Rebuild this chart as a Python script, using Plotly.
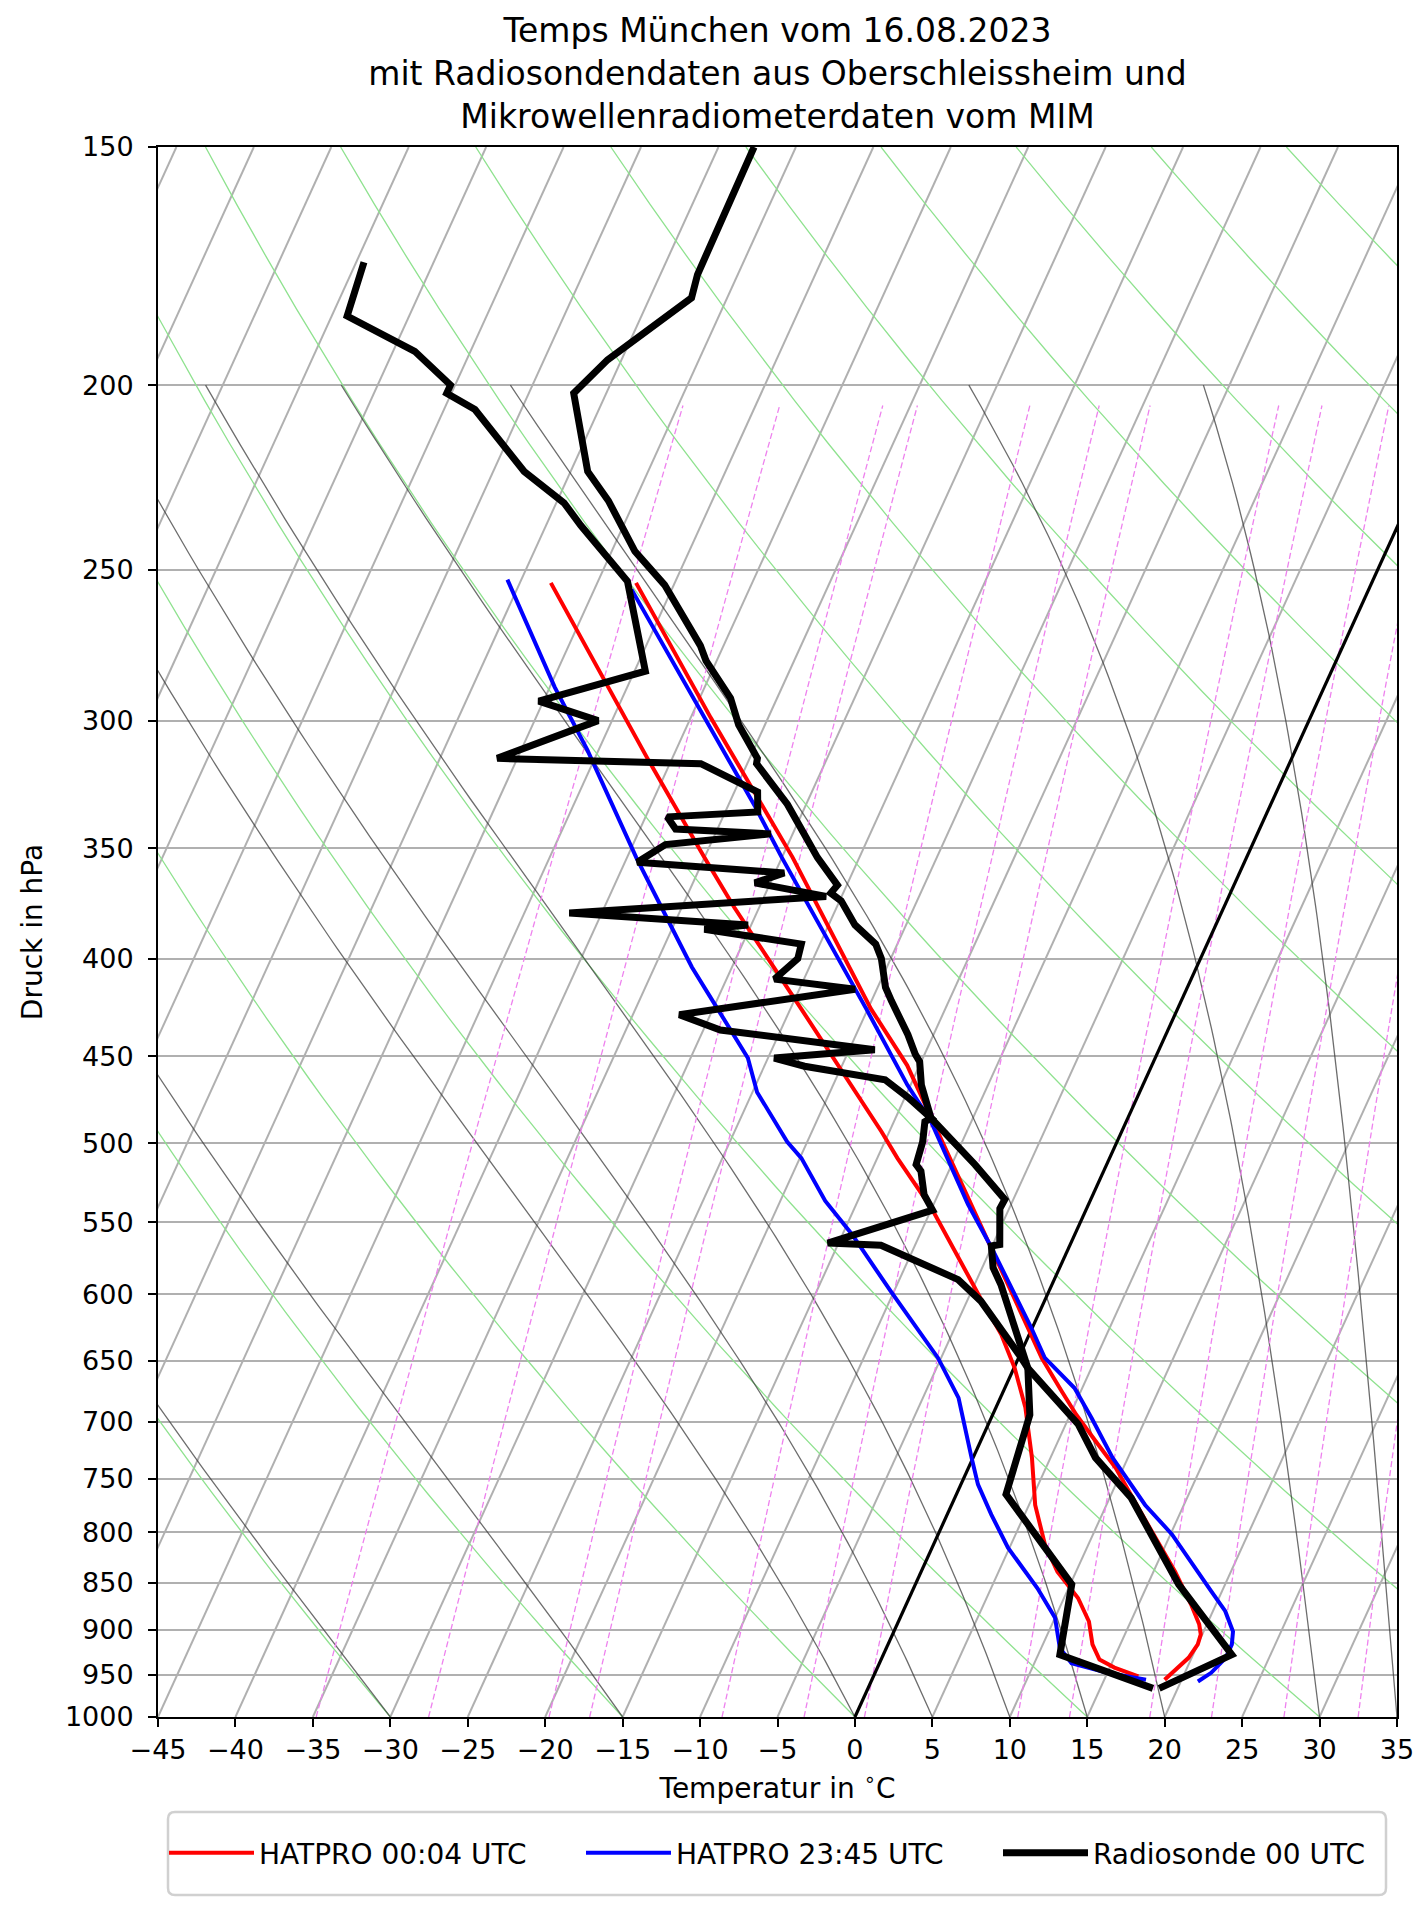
import numpy as np
import plotly.graph_objects as go

# ---------------- axis definitions ----------------
T_MIN, T_MAX = -45, 35
P_BOTTOM, P_TOP = 1000, 150
pressure_ticks = [150, 200, 250, 300, 350, 400, 450, 500, 550, 600, 650, 700,
                  750, 800, 850, 900, 950, 1000]
temp_ticks = list(range(-45, 36, 5))

# ---------------- background line parameters ----------------
isotherm_temps = list(range(-90, 36, 5))
dry_adiabat_t0 = list(range(-45, 181, 15))
moist_adiabat_t0 = [-30, -15, 0, 5, 10, 15, 20, 30, 35]
mixing_ratios = [0.0002, 0.0004, 0.0008, 0.001, 0.002, 0.003, 0.004, 0.008,
                 0.010, 0.014, 0.018, 0.024, 0.032]

# ---------------- HATPRO 00:04 UTC ----------------
hat1_T_p = [254, 299, 354, 425, 455, 563, 625, 648, 675, 694, 714, 740, 799,
            839, 873, 894, 905, 916, 931, 946, 956]
hat1_T = [-47.5, -38.7, -29.3, -19.8, -15.8, -5.4, -0.3, 1.5, 3.8, 5.4, 7.2,
          9.5, 13.7, 16.4, 18.4, 19.5, 19.9, 20.0, 19.8, 19.3, 18.9]
hat1_Td_p = [254, 284, 314, 354, 376, 425, 493, 509, 541, 603, 630, 656, 688,
             731, 774, 812, 839, 866, 891, 916, 933, 942, 952]
hat1_Td = [-53.0, -47.0, -41.6, -35.0, -31.6, -24.3, -15.5, -13.7, -10.0, -4.2,
           -1.8, 0.05, 1.9, 3.8, 5.4, 7.2, 8.8, 10.9, 12.3, 13.2, 14.1, 15.3, 17.1]

# ---------------- HATPRO 23:45 UTC ----------------
hat2_T_p = [256, 333, 354, 425, 466, 487, 538, 567, 625, 648, 672, 697, 731,
            774, 802, 829, 859, 880, 902, 916, 931, 948, 958]
hat2_T = [-47.6, -33.2, -30.0, -20.1, -15.2, -12.6, -7.8, -5.0, -0.05, 1.7,
          4.5, 6.5, 9.0, 12.5, 15.1, 17.1, 19.3, 20.8, 21.9, 22.2, 22.2, 21.7, 21.1]
hat2_Td_p = [253, 288, 311, 354, 376, 404, 425, 451, 470, 499, 509, 536, 558,
             598, 648, 680, 731, 755, 783, 815, 856, 887, 920, 937, 948, 956]
hat2_Td = [-55.9, -49.7, -45.7, -39.4, -36.3, -32.6, -29.7, -26.3, -24.7, -21.3,
           -19.9, -17.1, -14.4, -10.2, -5.2, -2.7, -0.1, 1.1, 2.85, 4.9, 8.0,
           10.0, 11.2, 12.4, 15.0, 17.7]

# ---------------- Radiosonde 00 UTC ----------------
sonde_T_p = [150, 175, 180, 187, 194, 202, 222, 230, 244.5, 254.6, 274, 279,
             292, 301.5, 314, 316, 332, 354, 361, 366, 369.5, 373, 384, 393,
             400, 414, 421, 433, 438.5, 449, 453, 466, 479, 485, 513, 535, 541,
             565, 566, 581, 593, 625, 646, 656, 702, 731, 767.5, 852, 927.5, 966]
sonde_T = [-52.7, -52.6, -52.3, -54.1, -55.9, -57.1, -53.9, -51.7, -48.5, -45.6,
           -41.5, -40.7, -38.0, -36.7, -34.5, -34.4, -31.2, -27.7, -26.5, -25.6,
           -25.8, -24.9, -23.3, -21.4, -20.6, -19.5, -18.7, -17.2, -16.65, -15.6,
           -15.1, -14.3, -13.2, -12.7, -8.5, -5.55, -5.6, -4.55, -5.05, -4.3,
           -3.3, -1.1, 0.2, 0.9, 5.8, 7.9, 11.4, 17.0, 22.5, 18.8]
sonde_Td_p = [172.4, 184, 192, 200, 202, 206, 222, 230.6, 237, 250.5, 253.5,
              282.6, 293, 300, 314, 316, 327, 335, 337, 342, 344, 348.5, 356,
              360.6, 365, 371, 378.5, 384, 386, 393, 400, 410, 415, 428, 436,
              446.5, 451, 455.5, 463, 473, 485, 487, 499, 513, 517, 532, 542,
              564, 565.5, 589.5, 605, 645, 656, 694, 716.6, 731, 764, 852,
              927.5, 966]
sonde_Td = [-74.5, -74.0, -68.6, -65.3, -65.3, -63.0, -58.0, -54.5, -52.75,
            -48.8, -48.1, -44.3, -50.3, -45.9, -51.3, -38.0, -33.5, -32.9, -38.6,
            -37.7, -31.4, -37.9, -39.2, -29.4, -31.0, -26.0, -42.1, -30.2, -32.9,
            -26.2, -26.0, -26.9, -21.4, -32.0, -28.9, -18.35, -24.6, -22.4,
            -16.8, -14.8, -12.7, -13.0, -12.55, -12.3, -11.8, -10.9, -9.9,
            -15.7, -12.2, -6.2, -4.1, -0.1, 0.9, 2.4, 2.7, 2.9, 3.2, 10.1,
            11.4, 18.4]

# ---------------- skew-T helpers ----------------
SKEW = (T_MAX - T_MIN) * np.tan(np.radians(30.0))
LOG_SPAN = np.log(P_BOTTOM / P_TOP)


def skew_x(t, p):
    t = np.asarray(t, dtype=float)
    p = np.asarray(p, dtype=float)
    return t + SKEW * np.log(P_BOTTOM / p) / LOG_SPAN


def join(segments):
    xs, ys = [], []
    for x, y in segments:
        xs.extend(list(x) + [None])
        ys.extend(list(y) + [None])
    return xs, ys


Rd, Cp, Lv, EPS = 287.04749, 1004.6662, 2.50084e6, 0.6219569


def sat_vp(tk):
    return 6.112 * np.exp(17.67 * (tk - 273.15) / (tk - 29.65))


def dtdp(p, tk):
    es = sat_vp(tk)
    rs = EPS * es / (p - es)
    frac = (Rd * tk + Lv * rs) / (Cp + Lv * Lv * rs * EPS / (Rd * tk * tk))
    return frac / p


def moist_line(t0c, p_arr):
    tk = t0c + 273.15
    out = [tk]
    for i in range(1, len(p_arr)):
        p0, p1 = p_arr[i - 1], p_arr[i]
        h = p1 - p0
        k1 = dtdp(p0, tk)
        k2 = dtdp(p0 + h / 2, tk + h / 2 * k1)
        k3 = dtdp(p0 + h / 2, tk + h / 2 * k2)
        k4 = dtdp(p1, tk + h * k3)
        tk = tk + h / 6 * (k1 + 2 * k2 + 2 * k3 + k4)
        out.append(tk)
    return np.array(out) - 273.15


fig = go.Figure()

# isotherms (skewed grid)
segs = []
for t in isotherm_temps:
    pp = np.array([P_BOTTOM, P_TOP], dtype=float)
    segs.append((skew_x([t, t], pp), pp))
xs, ys = join(segs)
fig.add_trace(go.Scatter(x=xs, y=ys, mode='lines', line=dict(color='#b0b0b0', width=2),
                         showlegend=False, hoverinfo='skip'))

# dry adiabats
p_dry = np.linspace(P_BOTTOM, P_TOP, 80)
segs = []
for t0 in dry_adiabat_t0:
    t = (t0 + 273.15) * (p_dry / 1000.0) ** 0.2857 - 273.15
    segs.append((skew_x(t, p_dry), p_dry))
xs, ys = join(segs)
fig.add_trace(go.Scatter(x=xs, y=ys, mode='lines', line=dict(color='#8fe28f', width=1.3),
                         showlegend=False, hoverinfo='skip'))

# moist adiabats
p_moist = np.arange(1000.0, 199.0, -5.0)
segs = []
for t0 in moist_adiabat_t0:
    t = moist_line(t0, p_moist)
    segs.append((skew_x(t, p_moist), p_moist))
xs, ys = join(segs)
fig.add_trace(go.Scatter(x=xs, y=ys, mode='lines', line=dict(color='rgba(60,60,60,0.75)', width=1.3),
                         showlegend=False, hoverinfo='skip'))

# mixing ratio lines
p_mix = np.linspace(1000.0, 205.0, 60)
segs = []
for w in mixing_ratios:
    e = p_mix * w / (EPS + w)
    lg = np.log(e / 6.112)
    td = 243.5 * lg / (17.67 - lg)
    segs.append((skew_x(td, p_mix), p_mix))
xs, ys = join(segs)
fig.add_trace(go.Scatter(x=xs, y=ys, mode='lines',
                         line=dict(color='#ee82ee', width=1.3, dash='6px,3px'),
                         showlegend=False, hoverinfo='skip'))

# 0 degC isotherm
pp = np.array([P_BOTTOM, P_TOP], dtype=float)
fig.add_trace(go.Scatter(x=skew_x([0, 0], pp), y=pp, mode='lines',
                         line=dict(color='black', width=3.2),
                         showlegend=False, hoverinfo='skip'))

# profiles (temperature trace carries the legend entry)
profiles = [
    ('HATPRO 00:04 UTC', 'red', 4, 317, hat1_T_p, hat1_T, hat1_Td_p, hat1_Td),
    ('HATPRO 23:45 UTC', 'blue', 4, 317, hat2_T_p, hat2_T, hat2_Td_p, hat2_Td),
    ('Radiosonde 00 UTC', 'black', 7, 275, sonde_T_p, sonde_T, sonde_Td_p, sonde_Td),
]
for name, col, lw, lwid, tp, tv, dp, dv in profiles:
    fig.add_trace(go.Scatter(x=skew_x(tv, tp), y=tp, mode='lines', name=name,
                             legendwidth=lwid, line=dict(color=col, width=lw)))
    fig.add_trace(go.Scatter(x=skew_x(dv, dp), y=dp, mode='lines', name=name,
                             showlegend=False, line=dict(color=col, width=lw)))

# rounded legend frame (paper coordinates)
PW, PH = 1239.0, 1570.0
fx0, fx1 = 10 / PW, 1228 / PW
fy0, fy1 = -95 / PH, -178 / PH
rx, ry = 7 / PW, 7 / PH
frame_path = (f"M{fx0 + rx},{fy0} L{fx1 - rx},{fy0} Q{fx1},{fy0} {fx1},{fy0 - ry} "
              f"L{fx1},{fy1 + ry} Q{fx1},{fy1} {fx1 - rx},{fy1} "
              f"L{fx0 + rx},{fy1} Q{fx0},{fy1} {fx0},{fy1 + ry} "
              f"L{fx0},{fy0 - ry} Q{fx0},{fy0} {fx0 + rx},{fy0} Z")

fig.update_layout(
    width=1427, height=1907,
    margin=dict(l=150, r=38, t=139, b=198),
    paper_bgcolor='white', plot_bgcolor='white',
    font=dict(family='DejaVu Sans', size=27, color='black'),
    title=dict(text='Temps München vom 16.08.2023<br>mit Radiosondendaten aus Oberschleissheim und<br>Mikrowellenradiometerdaten vom MIM',
               x=0.5, xref='paper', xanchor='center', y=0.982, yref='container', yanchor='top',
               font=dict(size=33)),
    xaxis=dict(range=[T_MIN, T_MAX], tickmode='array', tickvals=temp_ticks,
               showgrid=False, zeroline=False, showline=True, mirror=True,
               linecolor='black', linewidth=2, ticks='outside', ticklen=8, tickwidth=2,
               tickcolor='black', tickfont=dict(size=27),
               title=dict(text='Temperatur in <sup>∘</sup>C', font=dict(size=28), standoff=14)),
    yaxis=dict(type='log', range=[np.log10(P_BOTTOM), np.log10(P_TOP)], tickmode='array',
               tickvals=pressure_ticks, ticktext=[str(v) for v in pressure_ticks],
               showgrid=True, gridcolor='#b0b0b0', gridwidth=2, zeroline=False,
               showline=True, mirror=True, linecolor='black', linewidth=2,
               ticks='outside', ticklen=8, tickwidth=2, tickcolor='black',
               tickfont=dict(size=27), ticklabelstandoff=9,
               title=dict(text='Druck in hPa', font=dict(size=28), standoff=14)),
    legend=dict(orientation='h', xref='paper', x=6 / PW, xanchor='left',
                yref='paper', y=-136 / PH, yanchor='middle', traceorder='normal',
                borderwidth=0, bgcolor='rgba(0,0,0,0)',
                font=dict(size=28), itemwidth=85),
    shapes=[dict(type='path', xref='paper', yref='paper', path=frame_path,
                 line=dict(color='#d0d0d0', width=2.5), fillcolor='white', layer='below')],
)

fig.write_html('out.html')
